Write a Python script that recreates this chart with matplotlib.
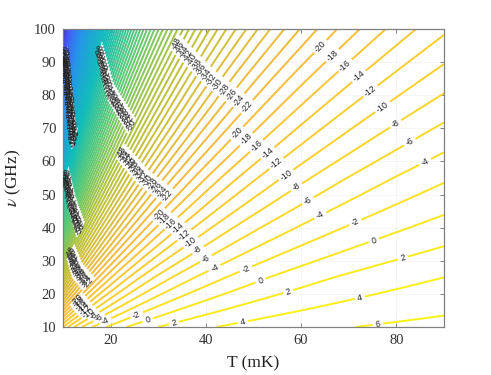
import numpy as np
import matplotlib
matplotlib.use("Agg")
import matplotlib.pyplot as plt
from matplotlib.colors import LinearSegmentedColormap

T_nodes = [10, 15, 20, 30, 45, 90]
nu_nodes = [10, 25, 40, 55, 70, 85, 100]
Z_table = [
    [-11.9, -42.0, -72.5, -103.1, -133.9, -164.7, -195.5],
    [-5.0, -24.8, -45.0, -65.3, -85.8, -106.3, -126.8],
    [-1.5, -16.2, -31.3, -46.4, -61.8, -77.1, -92.5],
    [2.0, -7.5, -17.5, -27.5, -37.7, -47.9, -58.2],
    [4.3, -1.8, -8.3, -14.9, -21.7, -28.4, -35.3],
    [6.6, 4.0, 0.8, -2.3, -5.6, -9.0, -12.4],
]
level_low, level_high, level_step = -196, 6, 2
x_ticks = [20, 40, 60, 80]
y_ticks = [10, 20, 30, 40, 50, 60, 70, 80, 90, 100]

# Where the groups of contour labels sit: (T, nu) arc, first level, last level
label_arcs = [
    ([(10.4, 95.0), (11.3, 82.0), (12.3, 67.0)], -170, -100),
    ([(17.3, 96.0), (20.0, 81.0), (25.5, 68.0)], -98, -50),
    ([(10.6, 57.0), (12.0, 47.0), (14.4, 36.0)], -98, -50),
    ([(33.5, 96.0), (41.0, 85.0), (50.0, 75.0)], -48, -22),
    ([(21.5, 64.0), (27.0, 55.0), (33.5, 48.0)], -48, -22),
    ([(11.5, 33.0), (13.0, 27.0), (16.3, 21.5)], -48, -22),
    ([(62.0, 97.0), (72.0, 86.0), (87.0, 58.0)], -20, -4),
    ([(45.0, 70.0), (53.0, 62.5), (65.0, 42.0)], -20, -4),
    ([(27.0, 47.0), (34.0, 40.0), (43.0, 26.0)], -20, -4),
    ([(12.5, 19.0), (15.0, 14.5), (20.0, 11.0)], -20, -4),
    ([(71.3, 41.7), (75.1, 36.3), (81.4, 30.8), (72.2, 19.1), (76.1, 10.9)], -2, 6),
    ([(48.4, 27.5), (51.6, 23.9), (57.5, 20.6), (47.8, 11.5)], -2, 4),
    ([(25.5, 13.6), (27.8, 12.1), (33.3, 11.2)], -2, 2),
]

parula = LinearSegmentedColormap.from_list("parula_like", [
    (0.00, (0.24, 0.15, 0.66)), (0.12, (0.28, 0.34, 0.97)), (0.30, (0.15, 0.58, 0.92)),
    (0.50, (0.07, 0.74, 0.73)), (0.64, (0.36, 0.79, 0.46)), (0.75, (0.72, 0.76, 0.22)),
    (0.87, (0.98, 0.73, 0.24)), (1.00, (0.98, 0.95, 0.08)),
])

plt.rcParams["font.family"] = "Liberation Serif"
plt.rcParams["mathtext.fontset"] = "stix"
fig = plt.figure(figsize=(4.91, 3.75), dpi=100)
ax = fig.add_axes([63 / 491, 1 - 327 / 375, 381 / 491, 298 / 375])

# The field is close to linear in 1/T, so the table is refined along that coordinate
Z_nodes = np.array(Z_table)
T_fine = 1 / np.linspace(1 / T_nodes[0], 1 / T_nodes[-1], 500)
T_fine[0], T_fine[-1] = T_nodes[0], T_nodes[-1]
inv_nodes = 1 / np.array(T_nodes, float)
Z_fine = np.array([np.interp(-1 / T_fine, -inv_nodes, Z_nodes[:, j]) for j in range(len(nu_nodes))])
order = np.argsort(T_fine)
T_grid = T_fine[order]
Z = Z_fine[:, order]
levels = np.arange(level_low, level_high + 1, level_step)
cs = ax.contour(T_grid, nu_nodes, Z, levels=levels, cmap=parula,
                vmin=level_low, vmax=level_high, linewidths=1.4, zorder=2)


def field_at(t, n):
    by_t = np.array([np.interp(t, T_grid, Z[j]) for j in range(len(nu_nodes))])
    return np.interp(n, nu_nodes, by_t)


manual = []
for arc, first, last in label_arcs:
    arc = np.array(arc)
    s = np.linspace(0, len(arc) - 1, 1500)
    ts = np.interp(s, np.arange(len(arc)), arc[:, 0])
    ns = np.interp(s, np.arange(len(arc)), arc[:, 1])
    zs = np.array([field_at(a, b) for a, b in zip(ts, ns)])
    for lev in range(first, last + 1, level_step):
        i = int(np.argmin(np.abs(zs - lev)))
        manual.append((ts[i], ns[i]))
ax.clabel(cs, manual=manual, inline=True, inline_spacing=3, fmt="%d", fontsize=6.3)
for t in cs.labelTexts:
    t.set_family("Liberation Sans")
    t.set_color("#222222")
    t.set_zorder(3)

ax.set_xlim(10, 90)
ax.set_ylim(10, 100)
ax.set_xticks(x_ticks)
ax.set_yticks(y_ticks)
ax.grid(True, ls=":", lw=0.5, color="#dcdcdc", zorder=1)
ax.set_axisbelow(True)
ax.tick_params(direction="in", length=3, width=0.7, color="#808080", top=True, right=True,
               labelsize=10.5, labelcolor="#333333", pad=5)
for sp in ax.spines.values():
    sp.set_color("#808080")
    sp.set_linewidth(0.9)
ax.set_xlabel("T (mK)", fontsize=12.5, color="#222222", labelpad=6)
ax.set_ylabel(r"$\nu$ (GHz)", fontsize=12.5, color="#222222", labelpad=8)
fig.savefig("out.png", dpi=100)
